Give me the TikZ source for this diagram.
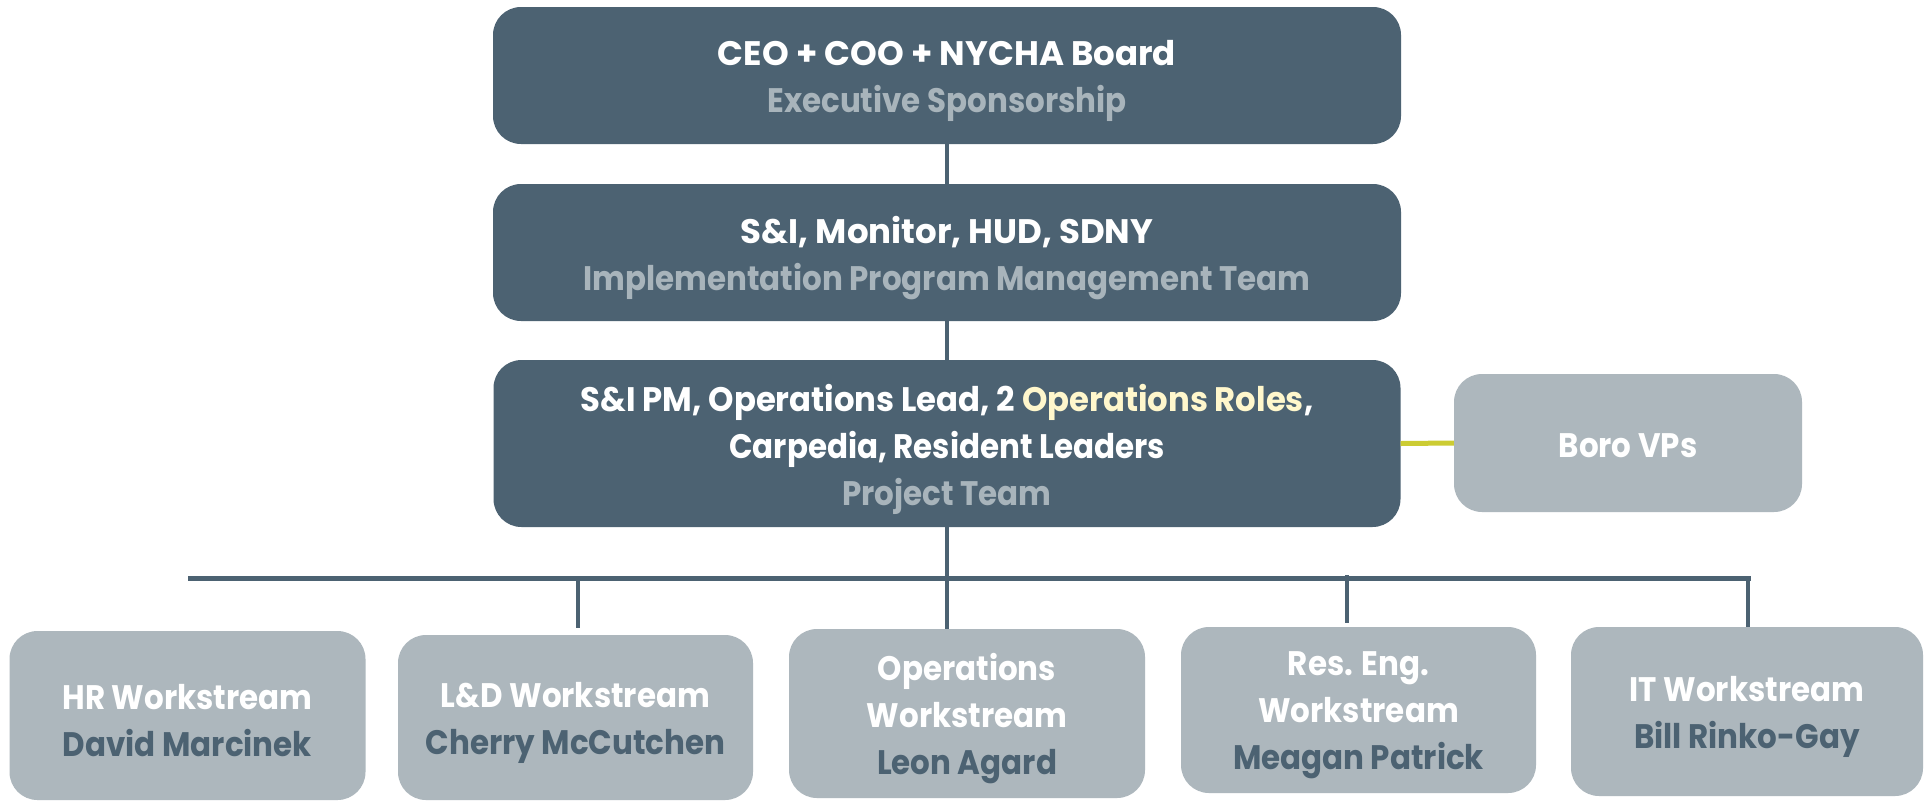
\documentclass[tikz,border=0pt]{standalone}
\usepackage{fontspec}
\setmainfont{Poppins}[FakeStretch=0.91]
\newfontfamily\capsline{Poppins}[FakeStretch=1.0]
\newfontfamily\midline{Poppins}[FakeStretch=0.95]
\definecolor{darkbox}{HTML}{4C6272}
\definecolor{lightbox}{HTML}{ADB7BD}
\definecolor{subgrey}{HTML}{A8B4BB}
\definecolor{darktext}{HTML}{4C6272}
\definecolor{cream}{HTML}{FFF7CC}
\definecolor{yconn}{HTML}{CCCC33}
\begin{document}
\begin{tikzpicture}[x=1pt,y=-1pt,
  boxbase/.style={rounded corners=28pt, inner sep=0pt},
  dbox/.style={boxbase, fill=darkbox},
  lbox/.style={boxbase, fill=lightbox},
  boxtext/.style={align=center, inner sep=0pt, text=white, yshift=-5.5pt,
    font=\fontsize{34}{47}\selectfont\bfseries},
  conn/.style={draw=darkbox, line width=4.5pt},
  barline/.style={draw=darkbox, line width=5pt},
  yline/.style={draw=yconn, line width=5pt}]
\useasboundingbox (0,0) rectangle (1927,801);
\fill[white] (0,0) rectangle (1927,801);

\node[dbox, minimum width=908pt, minimum height=137pt] (b1) at (947,75.5) {};
\node[boxtext] (b1t) at (b1.center)
  {{\capsline\bfseries CEO + COO + NYCHA Board}\\\textcolor{subgrey}{Executive Sponsorship}};
\node[dbox, minimum width=908pt, minimum height=137pt] (b2) at (947,252.5) {};
\node[boxtext] (b2t) at (b2.center)
  {{\capsline\bfseries S\&I, Monitor, HUD, SDNY}\\\textcolor{subgrey}{Implementation Program Management Team}};
\node[dbox, minimum width=907pt, minimum height=167pt] (b3) at (947,443.5) {};
\node[boxtext] (b3t) at (b3.center)
  {{\midline\bfseries S\&I PM, Operations Lead, 2 \textcolor{cream}{Operations Roles},}\\Carpedia, Resident Leaders\\\textcolor{subgrey}{Project Team}};
\node[lbox, minimum width=348pt, minimum height=138pt] (boro) at (1628,443) {};
\node[boxtext, yshift=3pt] (borot) at (boro.center) {Boro VPs};

\node[lbox, minimum width=356pt, minimum height=169pt] (hr) at (187.5,715.5) {};
\node[boxtext] (hrt) at (hr.center)
  {HR Workstream\\\textcolor{darktext}{David Marcinek}};
\node[lbox, minimum width=355pt, minimum height=165pt] (ld) at (575.5,717.5) {};
\node[boxtext] (ldt) at (ld.center)
  {L\&D Workstream\\\textcolor{darktext}{Cherry McCutchen}};
\node[lbox, minimum width=356pt, minimum height=169pt] (ops) at (967,713.5) {};
\node[boxtext] (opst) at (ops.center)
  {Operations\\Workstream\\\textcolor{darktext}{Leon Agard}};
\node[lbox, minimum width=355pt, minimum height=166pt] (re) at (1358.5,710) {};
\node[boxtext] (ret) at (re.center)
  {Res. Eng.\\Workstream\\\textcolor{darktext}{Meagan Patrick}};
\node[lbox, minimum width=352pt, minimum height=169pt] (it) at (1747,711.5) {};
\node[boxtext] (itt) at (it.center)
  {IT Workstream\\\textcolor{darktext}{Bill Rinko-Gay}};

\draw[conn] (b1.south) -- (b2.north);
\draw[conn] (b2.south) -- (b3.north);
\draw[conn] (b3.south) -- (b3.south |- ops.north);
\draw[yline] (b3.east) -- (boro.west);

\coordinate (barL) at (188,578.5);
\coordinate (barR) at (1751,578.5);
\draw[barline] (barL) -- (barR);

\coordinate (s2) at (578,578.5);
\coordinate (s4) at (1347,575);
\coordinate (s5) at (1748,578.5);
\draw[conn, shorten >=7pt] (s2) -- (s2 |- ld.north);
\draw[conn, shorten >=4pt] (s4) -- (s4 |- re.north);
\draw[conn] (s5) -- (s5 |- it.north);
\end{tikzpicture}
\end{document}
